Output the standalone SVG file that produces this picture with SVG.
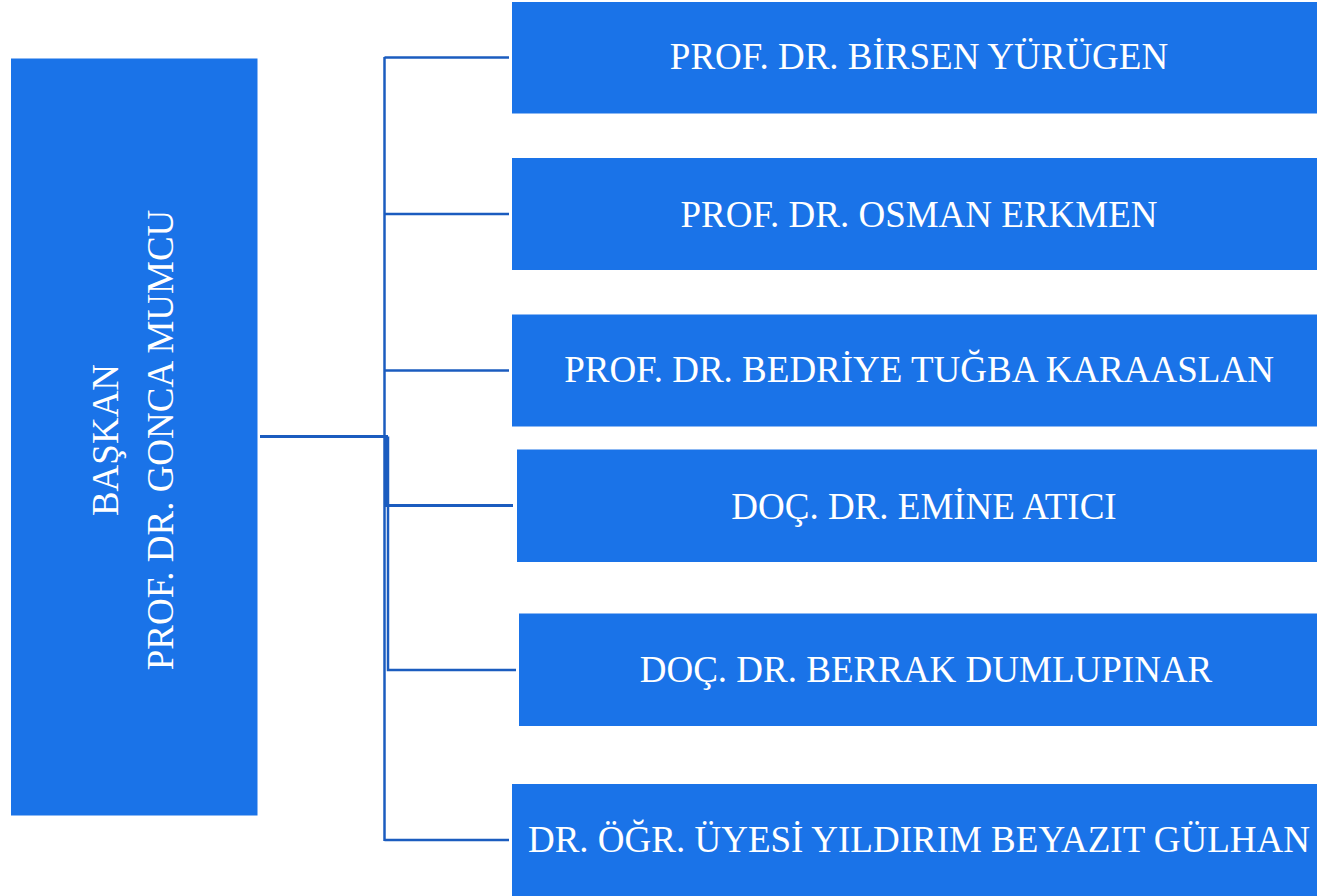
<svg xmlns="http://www.w3.org/2000/svg" width="1317" height="896" viewBox="0 0 1317 896">
<style>
.box{fill:#1a73e8;}
.lbl{font-family:"Liberation Serif","Times New Roman",serif;font-size:37px;fill:#ffffff;text-anchor:middle;}
.conn{fill:none;stroke:#1b5cbf;stroke-width:2.5;}
</style>
<rect width="1317" height="896" fill="#ffffff"/>
<g id="connectors">
<path class="conn" d="M384.5,57 V841"/>
<path class="conn" d="M384.5,57.5 H509"/>
<path class="conn" d="M384.5,214 H509"/>
<path class="conn" d="M384.5,370.5 H509"/>
<path class="conn" d="M384.5,840 H509"/>
<path class="conn" style="stroke-width:3" d="M260,436.5 H386.5 V505.5 H513"/>
<path class="conn" d="M388,436.5 V670 H516"/>
</g>
<g id="node-baskan">
<rect class="box" x="11" y="58.5" width="246.5" height="757"/>
<text class="lbl" transform="translate(118,440) rotate(-90)">BAŞKAN</text>
<text class="lbl" transform="translate(172.5,440) rotate(-90)">PROF. DR. GONCA MUMCU</text>
</g>
<g id="node-1">
<rect class="box" x="512" y="2" width="814" height="111.5"/>
<text class="lbl" x="919" y="69">PROF. DR. BİRSEN YÜRÜGEN</text>
</g>
<g id="node-2">
<rect class="box" x="512" y="158" width="814" height="112"/>
<text class="lbl" x="919" y="226.5">PROF. DR. OSMAN ERKMEN</text>
</g>
<g id="node-3">
<rect class="box" x="512" y="314.5" width="814" height="112"/>
<text class="lbl" x="919" y="381.5">PROF. DR. BEDRİYE TUĞBA KARAASLAN</text>
</g>
<g id="node-4">
<rect class="box" x="517" y="449.5" width="814" height="112.5"/>
<text class="lbl" x="924" y="518.5">DOÇ. DR. EMİNE ATICI</text>
</g>
<g id="node-5">
<rect class="box" x="519" y="613.5" width="814" height="112.5"/>
<text class="lbl" x="926" y="682">DOÇ. DR. BERRAK DUMLUPINAR</text>
</g>
<g id="node-6">
<rect class="box" x="512" y="784" width="814" height="112"/>
<text class="lbl" x="919" y="852">DR. ÖĞR. ÜYESİ YILDIRIM BEYAZIT GÜLHAN</text>
</g>
</svg>
